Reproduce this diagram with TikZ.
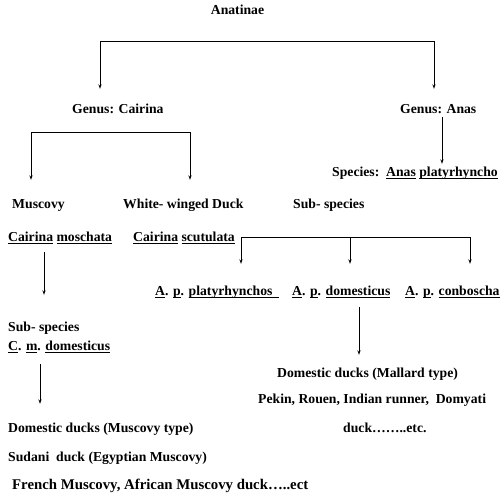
\documentclass[tikz,border=0pt]{standalone}
\usepackage{fontspec}
\setmainfont{Liberation Serif}
\usetikzlibrary{arrows.meta,calc}
\newsavebox\ulbox
\newcommand{\uln}[1]{\sbox\ulbox{#1}\rlap{\rule[-3.4pt]{\wd\ulbox}{1.2pt}}\usebox\ulbox}

\begin{document}
\begin{tikzpicture}[x=1pt,y=-1pt,>={Stealth[length=4.5pt,width=3.2pt]},
    lbl/.style={inner sep=0pt,anchor=base west,text height=9.5pt,text depth=3pt,
        font=\fontsize{13.7}{16}\selectfont\bfseries},
    con/.style={line width=0.8pt}]
    \useasboundingbox (0,0) rectangle (504,496);
    \node[lbl,anchor=base] (anat) at (237.5,14) {Anatinae};
    \node[lbl] (gcair) at (72,113) {Genus: Cairina};
    \node[lbl] (ganas) at (400,113) {Genus: Anas};
    \node[lbl] (spec) at (332,176) {Species:~~\uln{Anas} \uln{platyrhyncho}};
    \node[lbl] (musc) at (12,208) {Muscovy};
    \node[lbl] (wwd) at (123,208) {White-~winged Duck};
    \node[lbl] (subr) at (293,208) {Sub-~species};
    \node[lbl] (cmosch) at (8,241) {\uln{Cairina}~\uln{moschata}};
    \node[lbl] (cscut) at (133,241) {\uln{Cairina}~\uln{scutulata}};
    \node[lbl] (app) at (155,295) {\uln{A}. \uln{p}. \uln{platyrhynchos~~}};
    \node[lbl] (apd) at (292,295) {\uln{A}. \uln{p}. \uln{domesticus}};
    \node[lbl] (apc) at (405,295) {\uln{A}. \uln{p}. \uln{conboscha}};
    \node[lbl] (subl) at (8,331) {Sub-~species};
    \node[lbl] (cmdom) at (8,350) {\uln{C}. \uln{m}. \uln{domesticus}};
    \node[lbl] (mall) at (277,377) {Domestic ducks (Mallard type)};
    \node[lbl] (pekin) at (258,403) {Pekin, Rouen, Indian runner,~~Domyati};
    \node[lbl] (dmusc) at (8,432) {Domestic ducks (Muscovy type)};
    \node[lbl] (detc) at (343,432) {duck\dots\dots..etc.};
    \node[lbl] (sud) at (8,461) {Sudani~~duck (Egyptian Muscovy)};
    \node[lbl,font=\fontsize{14.8}{17}\selectfont\bfseries] (fren) at (12,489) {French Muscovy, African Muscovy duck\dots..ect};
    \coordinate (tL) at (100,41);
    \coordinate (tR) at (434,41);
    \coordinate (cL) at (31,132);
    \coordinate (cR) at (190,132);
    \coordinate (sL) at (241,237);
    \coordinate (sM) at (350,237);
    \coordinate (sR) at (470,237);
    \draw[con,<->,shorten <=14.5pt,shorten >=14.5pt] (tL |- gcair.north) -- (tL) -- (tR) -- (tR |- ganas.north);
    \draw[con,<->,shorten <=18.5pt,shorten >=18.5pt] (cL |- musc.north) -- (cL) -- (cR) -- (cR |- wwd.north);
    \draw[con,->,shorten <=1pt,shorten >=2.5pt] (ganas.south -| 442,0) -- (spec.north -| 442,0);
    \draw[con,<->,shorten <=21.5pt,shorten >=21.5pt] (sL |- app.north) -- (sL) -- (sR) -- (sR |- apc.north);
    \draw[con,->,shorten >=21.5pt] (sM) -- (sM |- apd.north);
    \draw[con,->,shorten <=8pt,shorten >=26.5pt] (cmosch.south -| 44,0) -- (subl.north -| 44,0);
    \draw[con,->,shorten <=9pt,shorten >=12.5pt] (apd.south -| 359,0) -- (mall.north -| 359,0);
    \draw[con,->,shorten <=11pt,shorten >=18.5pt] (cmdom.south -| 40,0) -- (dmusc.north -| 40,0);
\end{tikzpicture}
\end{document}
